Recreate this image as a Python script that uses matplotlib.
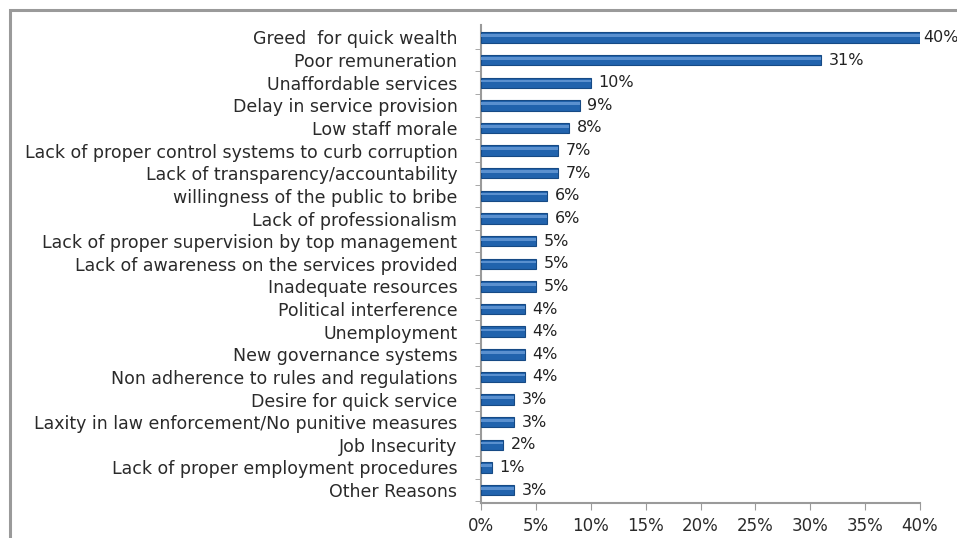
import matplotlib
matplotlib.use('Agg')
import matplotlib.pyplot as plt
from matplotlib.patches import Rectangle
from matplotlib.ticker import FuncFormatter, FixedLocator

reasons = [
    'Greed  for quick wealth',
    'Poor remuneration',
    'Unaffordable services',
    'Delay in service provision',
    'Low staff morale',
    'Lack of proper control systems to curb corruption',
    'Lack of transparency/accountability',
    'willingness of the public to bribe',
    'Lack of professionalism',
    'Lack of proper supervision by top management',
    'Lack of awareness on the services provided',
    'Inadequate resources',
    'Political interference',
    'Unemployment',
    'New governance systems',
    'Non adherence to rules and regulations',
    'Desire for quick service',
    'Laxity in law enforcement/No punitive measures',
    'Job Insecurity',
    'Lack of proper employment procedures',
    'Other Reasons',
]
percent = [40, 31, 10, 9, 8, 7, 7, 6, 6, 5, 5, 5, 4, 4, 4, 4, 3, 3, 2, 1, 3]
x_ticks = [0, 5, 10, 15, 20, 25, 30, 35, 40]

fig = plt.figure(figsize=(9.57, 5.38), dpi=100)
ax = fig.add_axes([481 / 957, 35 / 538, 439 / 957, 478 / 538])

# outer chart frame, runs off the right and bottom edges
fig.patches.append(Rectangle((10 / 957, -0.05), 1.0, 1 - 10 / 538 + 0.05,
                             transform=fig.transFigure, fill=False,
                             edgecolor='#9a9a9a', linewidth=2.2))

ys = list(range(len(reasons)))
ax.barh(ys, percent, height=0.46, color='#2163ad', edgecolor='#164a85',
        linewidth=0.8, zorder=3)
# lighter strip along the top of each bar
ax.barh([y - 0.08 for y in ys], percent, height=0.12, color='#5a90cf',
        linewidth=0, zorder=4)

for y, v in zip(ys, percent):
    ax.text(v + (0.3 if v >= 40 else 0.7), y, f'{v}%', va='center', ha='left',
            fontsize=11.5, color='#222222', zorder=5)

ax.set_xlim(0, 40)
ax.set_ylim(len(reasons) - 0.43, -0.55)
ax.set_xticks(x_ticks)
ax.xaxis.set_major_formatter(FuncFormatter(lambda v, p: f'{int(v)}%'))
ax.set_yticks(ys)
ax.set_yticklabels(reasons)
ax.yaxis.set_minor_locator(FixedLocator([y + 0.5 for y in ys]))

ax.tick_params(axis='y', which='major', length=0, pad=17, labelsize=12.5,
               labelcolor='#2a2a2a')
ax.tick_params(axis='y', which='minor', length=4, color='#9a9a9a')
ax.tick_params(axis='x', length=5, color='#9a9a9a', pad=5, labelsize=12,
               labelcolor='#2a2a2a')

for side in ('top', 'right'):
    ax.spines[side].set_visible(False)
for side in ('left', 'bottom'):
    ax.spines[side].set_color('#9a9a9a')
    ax.spines[side].set_linewidth(1.5)

fig.savefig('out.png', dpi=100)
